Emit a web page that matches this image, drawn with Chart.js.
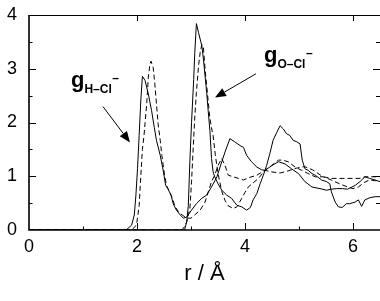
<!DOCTYPE html>
<html><head><meta charset="utf-8">
<script src="https://cdn.jsdelivr.net/npm/chart.js@4/dist/chart.umd.min.js"></script>
<style>html,body{margin:0;padding:0;background:#fff;}#wrap{width:380px;height:301px;position:relative;}</style>
</head><body><div id="wrap"><canvas id="c"></canvas></div>
<script>
// ---- data (r in Å, g(r)) ----
const xTickLabels = [0, 2, 4, 6];
const yTickLabels = [0, 1, 2, 3, 4];
const xMajorTicks = [2, 4, 6];
const xMinorTicks = [1, 3, 5];
const yMajorTicks = [1, 2, 3];
const yMinorTicks = [0.5, 1.5, 2.5, 3.5];

const hclSolidR = [0,1.8,1.9,1.95,1.98,2.01,2.04,2.07,2.1,2.15,2.21,2.27,2.32,2.36,2.43,2.49,2.53,2.57,2.63,2.67,2.73,2.8,2.86,2.92,3.01,3.1,3.2,3.29,3.38,3.48,3.57,3.63,3.72,3.81,3.91,3.97,4.03,4.12,4.22,4.31,4.37,4.5,4.62,4.74,4.86,4.99,5.11,5.24,5.39,5.51,5.6,5.7,5.8,5.9,6.04,6.13,6.22,6.31,6.41,6.5];
const hclSolidG = [0,0,0.09,0.28,0.65,1.15,1.76,2.4,2.86,2.78,2.53,2.22,1.91,1.67,1.39,1.08,0.83,0.77,0.65,0.49,0.37,0.28,0.22,0.24,0.37,0.49,0.59,0.65,0.8,0.99,1.27,1.45,1.7,1.64,1.57,1.54,1.39,1.27,1.17,1.12,1.11,1.2,1.27,1.23,1.14,1.05,0.9,0.8,0.77,0.74,0.76,0.77,0.77,0.76,0.83,0.9,0.99,0.96,0.93,0.9];

const hclDashR = [0,1.9,1.99,2.04,2.07,2.1,2.13,2.15,2.18,2.21,2.24,2.26,2.3,2.33,2.36,2.39,2.43,2.46,2.51,2.55,2.6,2.65,2.7,2.77,2.85,2.92,3.0,3.07,3.17,3.26,3.32,3.38,3.44,3.5,3.57,3.63,3.69,3.78,3.88,3.97,4.09,4.22,4.37,4.5,4.65,4.8,4.95,5.1,5.25,5.4,5.45,5.6,5.8,6.0,6.13,6.22,6.4,6.5];
const hclDashG = [0,0,0.09,0.45,1.0,1.5,1.76,2.0,2.35,2.84,3.09,3.14,3.02,2.72,2.35,1.98,1.67,1.39,1.02,0.82,0.72,0.6,0.45,0.33,0.27,0.22,0.22,0.28,0.37,0.52,0.71,0.9,1.02,1.2,1.33,1.2,1.02,0.99,0.96,0.93,0.98,1.02,1.11,1.08,1.06,1.1,1.15,1.18,1.12,1.02,0.99,0.96,0.96,0.96,0.96,0.99,0.99,0.99];

const oclSolidR = [0,2.88,2.92,2.95,2.98,3.01,3.05,3.07,3.1,3.14,3.2,3.23,3.26,3.29,3.32,3.35,3.38,3.41,3.44,3.5,3.57,3.66,3.75,3.85,3.94,4.03,4.1,4.15,4.22,4.28,4.34,4.4,4.46,4.52,4.59,4.65,4.71,4.77,4.83,4.89,4.96,5.02,5.06,5.11,5.17,5.24,5.3,5.42,5.51,5.57,5.6,5.67,5.73,5.8,5.88,5.94,6.04,6.1,6.16,6.22,6.31,6.41,6.5];
const oclSolidG = [0,0,0.15,0.45,1.3,2.0,2.8,3.3,3.84,3.67,3.43,3.18,2.87,2.56,2.2,1.85,1.33,1.08,0.99,0.86,0.74,0.65,0.59,0.46,0.43,0.37,0.42,0.56,0.68,0.86,1.02,1.2,1.42,1.67,1.82,1.94,1.88,1.79,1.76,1.67,1.64,1.6,1.3,1.14,1.11,1.05,1.02,0.93,0.9,0.86,0.71,0.52,0.43,0.42,0.49,0.49,0.52,0.56,0.44,0.56,0.6,0.62,0.62];

const oclDashR = [0,2.82,2.86,2.92,2.98,3.01,3.04,3.07,3.1,3.14,3.17,3.2,3.23,3.26,3.29,3.32,3.35,3.38,3.41,3.45,3.5,3.57,3.63,3.69,3.78,3.85,3.94,4.0,4.06,4.12,4.25,4.37,4.49,4.62,4.7,4.8,4.93,5.05,5.17,5.3,5.45,5.6,5.75,5.9,6.0,6.1,6.2,6.3,6.4,6.5];
const oclDashG = [0,0,0.03,0.15,0.4,0.9,1.51,2.1,2.56,3.06,3.3,3.45,3.4,3.0,2.69,2.38,2.07,1.9,1.75,1.4,1.05,0.72,0.55,0.45,0.4,0.43,0.59,0.7,0.8,0.85,0.96,1.11,1.2,1.3,1.3,1.27,1.17,1.11,1.05,0.99,0.99,0.93,0.86,0.8,0.77,0.8,0.88,0.93,0.92,0.9];

const FONT = '"Liberation Sans", Arial, Helvetica, sans-serif';
const pts = (rs, gs) => rs.map((r, i) => ({x: r, y: gs[i]}));

function ds(rs, gs, dashed) {
  return {data: pts(rs, gs), borderColor: '#000', borderWidth: 1, borderDash: dashed ? [5, 3] : [],
    pointRadius: 0, tension: 0, showLine: true, fill: false};
}

function arrow(ctx, x1, y1, x2, y2) {
  const a = Math.atan2(y2 - y1, x2 - x1), L = 11, W = 4.5;
  const bx = x2 - L * Math.cos(a), by = y2 - L * Math.sin(a);
  ctx.beginPath(); ctx.moveTo(x1, y1); ctx.lineTo(bx, by); ctx.lineWidth = 1; ctx.stroke();
  ctx.beginPath(); ctx.moveTo(x2, y2);
  ctx.lineTo(bx + W * Math.sin(a), by - W * Math.cos(a));
  ctx.lineTo(bx - W * Math.sin(a), by + W * Math.cos(a));
  ctx.closePath(); ctx.fill();
}
function gLabel(ctx, x, y, sub) {
  ctx.textAlign = 'left'; ctx.textBaseline = 'alphabetic';
  ctx.font = 'bold 22px ' + FONT; ctx.fillText('g', x, y);
  const w = ctx.measureText('g').width;
  ctx.font = 'bold 12px ' + FONT; ctx.fillText(sub, x + w, y + 5.5);
  const w2 = ctx.measureText(sub).width;
  ctx.fillText('\u2013', x + w + w2 + 0.5, y - 5);
}

const frame = {
  id: 'frame',
  afterDatasetsDraw(chart) {
    const {ctx, chartArea: a, scales: {x, y}} = chart;
    ctx.save(); ctx.strokeStyle = '#000'; ctx.fillStyle = '#000';
    ctx.lineWidth = 1.6; ctx.beginPath();
    ctx.moveTo(a.left, a.top); ctx.lineTo(a.left, a.bottom); ctx.lineTo(a.right, a.bottom); ctx.stroke();
    ctx.lineWidth = 1; ctx.beginPath(); ctx.moveTo(a.left, a.top + 0.5); ctx.lineTo(a.right, a.top + 0.5); ctx.stroke();
    ctx.beginPath();
    xMajorTicks.forEach(v => { const p = Math.round(x.getPixelForValue(v)) + 0.5;
      ctx.moveTo(p, a.bottom); ctx.lineTo(p, a.bottom - 7); ctx.moveTo(p, a.top); ctx.lineTo(p, a.top + 6); });
    xMinorTicks.forEach(v => { const p = Math.round(x.getPixelForValue(v)) + 0.5;
      ctx.moveTo(p, a.bottom); ctx.lineTo(p, a.bottom - 3.5); });
    yMajorTicks.forEach(v => { const p = Math.round(y.getPixelForValue(v)) + 0.5;
      ctx.moveTo(a.left, p); ctx.lineTo(a.left + 7, p); ctx.moveTo(a.right, p); ctx.lineTo(a.right - 7, p); });
    yMinorTicks.forEach(v => { const p = Math.round(y.getPixelForValue(v)) + 0.5;
      ctx.moveTo(a.left, p); ctx.lineTo(a.left + 3.5, p); ctx.moveTo(a.right, p); ctx.lineTo(a.right - 4, p); });
    ctx.stroke();
    // annotations (anchored in data units)
    const X = v => x.getPixelForValue(v), Y = v => y.getPixelForValue(v);
    gLabel(ctx, X(0.778), Y(2.657), 'H\u2013Cl');
    arrow(ctx, X(1.37), Y(2.296), X(1.87), Y(1.63));
    gLabel(ctx, X(4.352), Y(3.12), 'O\u2013Cl');
    arrow(ctx, X(4.204), Y(2.907), X(3.444), Y(2.463));
    ctx.restore();
  }
};

new Chart(document.getElementById('c'), {
  type: 'scatter',
  data: {datasets: [ds(hclSolidR, hclSolidG, false), ds(hclDashR, hclDashG, true),
                    ds(oclSolidR, oclSolidG, false), ds(oclDashR, oclDashG, true)]},
  options: {
    responsive: true, maintainAspectRatio: false, animation: false, devicePixelRatio: 1,
    layout: {padding: {top: 15, left: 7, right: 0, bottom: 14}},
    plugins: {legend: {display: false}, tooltip: {enabled: false}},
    scales: {
      x: {type: 'linear', min: 0, max: 6.5,
        afterBuildTicks: s => { s.ticks = xTickLabels.map(v => ({value: v})); },
        afterFit: s => { s.height = 57; s.paddingLeft = 0; s.paddingRight = 0; },
        grid: {display: false, drawTicks: false}, border: {display: false},
        ticks: {color: '#000', font: {family: FONT, size: 18}, padding: 6, maxRotation: 0, autoSkip: false},
        title: {display: true, text: 'r / \u00C5', color: '#000', font: {family: FONT, size: 22}, padding: {top: 3, bottom: 0}}},
      y: {type: 'linear', min: 0, max: 4,
        afterBuildTicks: s => { s.ticks = yTickLabels.map(v => ({value: v})); },
        afterFit: s => { s.width = 22; s.paddingTop = 0; s.paddingBottom = 0; },
        grid: {display: false, drawTicks: false}, border: {display: false},
        ticks: {color: '#000', font: {family: FONT, size: 18}, padding: 12, autoSkip: false}}
    }
  },
  plugins: [frame]
});
</script></body></html>
